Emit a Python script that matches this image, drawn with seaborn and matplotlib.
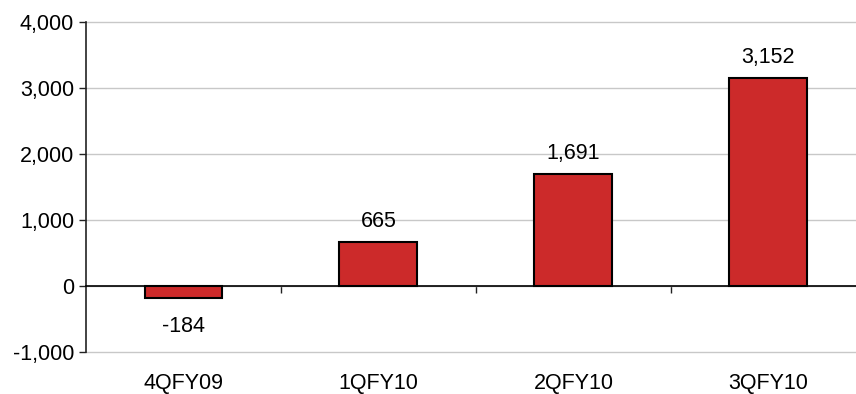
import matplotlib
matplotlib.use("Agg")
import matplotlib.pyplot as plt
import seaborn as sns
import pandas as pd
from matplotlib.ticker import FuncFormatter, FixedLocator

quarters = ["4QFY09", "1QFY10", "2QFY10", "3QFY10"]
values = [-184, 665, 1691, 3152]
y_ticks = [-1000, 0, 1000, 2000, 3000, 4000]

sns.set_theme(style="white")
plt.rcParams["font.family"] = ["Liberation Sans", "DejaVu Sans"]

FS = 15.5

df = pd.DataFrame({"quarter": quarters, "value": values})

fig = plt.figure(figsize=(8.56, 3.94), dpi=100)
# the plot area runs slightly past the right edge of the canvas
ax = fig.add_axes([0.1005, 0.1066, 0.911, 0.8376])

sns.barplot(data=df, x="quarter", y="value", ax=ax, color="#CC2A2A",
            saturation=1, width=0.4, edgecolor="black", linewidth=1.5,
            zorder=3)

ax.set_xlim(-0.5, len(quarters) - 0.5)
ax.set_ylim(y_ticks[0], y_ticks[-1])
ax.set_yticks(y_ticks)
ax.yaxis.set_major_formatter(FuncFormatter(lambda v, p: f"{v:,.0f}"))
ax.yaxis.grid(True, color="#C8C8C8", linewidth=1, zorder=0)
ax.set_axisbelow(True)
for gl in ax.get_ygridlines():
    gl.set_clip_on(False)

# spines: left axis plus a baseline at zero
for s in ["top", "right"]:
    ax.spines[s].set_visible(False)
ax.spines["left"].set_color("#222222")
ax.spines["left"].set_linewidth(1.2)
ax.spines["bottom"].set_position(("data", 0))
ax.spines["bottom"].set_color("black")
ax.spines["bottom"].set_linewidth(1.2)
ax.spines["bottom"].set_zorder(4)

# category separators as minor ticks on the baseline
ax.xaxis.set_minor_locator(FixedLocator([i + 0.5 for i in range(len(quarters) - 1)]))
ax.tick_params(axis="x", which="minor", direction="out", length=5, width=1,
               color="#222222", bottom=True)
ax.tick_params(axis="x", which="major", length=0, pad=62.5, labelsize=FS,
               labelcolor="black")
ax.tick_params(axis="y", which="major", direction="out", length=5, width=1,
               color="#222222", left=True, labelsize=FS, labelcolor="black")

ax.set_xlabel("")
ax.set_ylabel("")

container = ax.containers[0]
pos_labels = [f"{v:,.0f}" if v >= 0 else "" for v in values]
neg_labels = [f"{v:,.0f}" if v < 0 else "" for v in values]
ax.bar_label(container, labels=pos_labels, padding=7.5, fontsize=FS, color="black")
ax.bar_label(container, labels=neg_labels, padding=13, fontsize=FS, color="black")

fig.savefig("out.png", dpi=100)
